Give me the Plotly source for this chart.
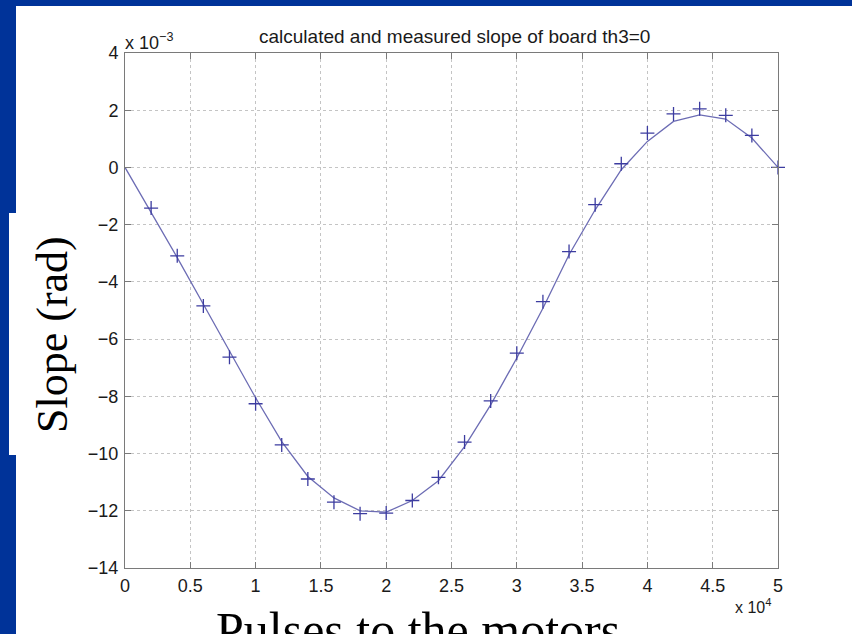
import plotly.graph_objects as go

# Data (slope in units of 1e-3 rad)
pulses_calc = [0, 2000, 4000, 6000, 8000, 10000, 12000, 14000, 16000, 18000, 20000,
               22000, 24000, 26000, 28000, 30000, 32000, 34000, 36000, 38000, 40000,
               42000, 44000, 46000, 48000, 50000]
slope_calc = [0, -1.55, -3.15, -4.78, -6.42, -8.05, -9.58, -10.8, -11.55, -12.0, -12.05,
              -11.64, -10.95, -9.76, -8.3, -6.66, -4.92, -3.05, -1.48, -0.08, 0.91,
              1.61, 1.84, 1.69, 1.03, 0]
pulses_meas = [2000, 4000, 6000, 8000, 10000, 12000, 14000, 16000, 18000, 20000,
               22000, 24000, 26000, 28000, 30000, 32000, 34000, 36000, 38000, 40000,
               42000, 44000, 46000, 48000, 50000]
slope_meas = [-1.42, -3.09, -4.84, -6.63, -8.26, -9.7, -10.89, -11.7, -12.1, -12.08,
              -11.64, -10.83, -9.6, -8.16, -6.49, -4.69, -2.94, -1.3, 0.13, 1.2,
              1.87, 2.05, 1.82, 1.12, 0.0]

x_tickvals = [0, 5000, 10000, 15000, 20000, 25000, 30000, 35000, 40000, 45000, 50000]
x_ticktext = ["0", "0.5", "1", "1.5", "2", "2.5", "3", "3.5", "4", "4.5", "5"]
y_tickvals = [-14, -12, -10, -8, -6, -4, -2, 0, 2, 4]
y_ticktext = ["\u221214", "\u221212", "\u221210", "\u22128", "\u22126", "\u22124", "\u22122", "0", "2", "4"]

W, H = 852, 634
L, R, T, B = 125, 778, 53, 568

def px(xp):
    return (xp - L) / (R - L)

def py(yp):
    return (B - yp) / (B - T)

fig = go.Figure()
fig.add_trace(go.Scatter(x=pulses_calc, y=slope_calc, mode="lines",
                         line=dict(color="#6c6cb4", width=1.3), showlegend=False,
                         cliponaxis=False))
fig.add_trace(go.Scatter(x=pulses_meas, y=slope_meas, mode="markers",
                         marker=dict(symbol="cross-thin", size=10,
                                     line=dict(color="#3c3ca0", width=1.3)),
                         showlegend=False, cliponaxis=False))

axis_common = dict(showline=True, linecolor="#7a7a7a", linewidth=1, mirror="allticks",
                   ticks="inside", ticklen=6, tickcolor="#7a7a7a",
                   showgrid=True, gridcolor="#c4c4c4", griddash="dot", gridwidth=1,
                   zeroline=False,
                   tickfont=dict(family="Liberation Sans, Arial, sans-serif", size=18, color="#1a1a1a"))

fig.update_xaxes(range=[0, 50000], tickmode="array", tickvals=x_tickvals, ticktext=x_ticktext,
                 ticklabelstandoff=1, **axis_common)
fig.update_yaxes(range=[-14, 4], tickmode="array", tickvals=y_tickvals, ticktext=y_ticktext,
                 ticklabelstandoff=2, **axis_common)

shapes = [
    dict(type="rect", xref="paper", yref="paper", x0=px(16), x1=px(852), y0=py(634), y1=py(6),
         fillcolor="white", line=dict(width=0), layer="below"),
    dict(type="rect", xref="paper", yref="paper", x0=px(9), x1=px(88), y0=py(455), y1=py(213),
         fillcolor="white", line=dict(width=0), layer="below"),
]

annotations = [
    dict(text="calculated and measured slope of board th3=0", xref="paper", yref="paper",
         x=px(454), y=py(37), xanchor="center", yanchor="middle", showarrow=False,
         font=dict(family="Liberation Sans, Arial, sans-serif", size=19, color="#1a1a1a")),
    dict(text="x 10<sup>\u22123</sup>", xref="paper", yref="paper",
         x=px(123), y=py(42), xanchor="left", yanchor="middle", showarrow=False,
         font=dict(family="Liberation Sans, Arial, sans-serif", size=18, color="#1a1a1a")),
    dict(text="x 10<sup>4</sup>", xref="paper", yref="paper",
         x=px(773), y=py(606), xanchor="right", yanchor="middle", showarrow=False,
         font=dict(family="Liberation Sans, Arial, sans-serif", size=16, color="#1a1a1a")),
    dict(text="Slope (rad)", xref="paper", yref="paper", textangle=-90,
         x=px(53), y=py(335), xanchor="center", yanchor="middle", showarrow=False,
         font=dict(family="Liberation Serif, Times New Roman, serif", size=44, color="black")),
    dict(text="Pulses to the motors", xref="paper", yref="paper",
         x=px(418), y=py(600), xanchor="center", yanchor="top", showarrow=False,
         font=dict(family="Liberation Serif, Times New Roman, serif", size=50, color="black")),
]

fig.update_layout(width=W, height=H, margin=dict(l=L, r=W - R, t=T, b=H - B),
                  paper_bgcolor="#003399", plot_bgcolor="white",
                  shapes=shapes, annotations=annotations)

fig.write_html("out.html")
